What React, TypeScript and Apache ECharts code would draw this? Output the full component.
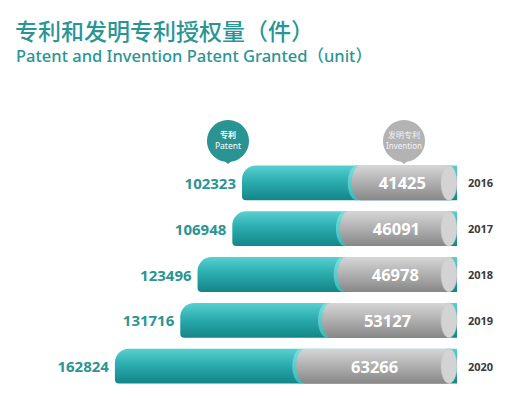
import React, { useEffect, useRef } from "react";
import * as echarts from "echarts";

const years = ["2016", "2017", "2018", "2019", "2020"];
const patentValues = [102323, 106948, 123496, 131716, 162824];
const inventionValues = [41425, 46091, 46978, 53127, 63266];

const titleCn = "专利和发明专利授权量（件）";
const titleEn = "Patent and Invention Patent Granted（unit）";

const TEAL_TEXT = "#2a9595";
const NUM_FONT = '"Open Sans", "Noto Sans", sans-serif';

export default function App() {
  const ref = useRef<HTMLDivElement>(null);
  useEffect(() => {
    if (!ref.current) return;
    const chart = echarts.init(ref.current, null, { renderer: "svg" });

    const tealGrad = new echarts.graphic.LinearGradient(0, 0, 0, 1, [
      { offset: 0, color: "#58d0d1" },
      { offset: 0.45, color: "#2cadaf" },
      { offset: 1, color: "#138588" },
    ]);
    const sliverGrad = new echarts.graphic.LinearGradient(0, 0, 0, 1, [
      { offset: 0, color: "#7fdede" },
      { offset: 1, color: "#3ab8b9" },
    ]);
    const greyGrad = new echarts.graphic.LinearGradient(0, 0, 0, 1, [
      { offset: 0, color: "#d6d6d6" },
      { offset: 0.5, color: "#afafaf" },
      { offset: 1, color: "#878787" },
    ]);

    const renderPatent = (params: any, api: any) => {
      const cat = api.value(1);
      const end = api.coord([api.value(0), cat]);
      const start = api.coord([0, cat]);
      const band = api.size([0, 1])[1];
      const h = band * 0.76;
      const cy = end[1];
      return {
        type: "group",
        children: [
          {
            type: "rect",
            shape: { x: end[0], y: cy - h / 2, width: start[0] - end[0], height: h, r: [14, 0, 0, 4] },
            style: { fill: tealGrad },
          },
          {
            type: "text",
            x: end[0] - 6,
            y: cy,
            style: {
              text: String(api.value(0)),
              align: "right",
              verticalAlign: "middle",
              fill: TEAL_TEXT,
              font: `bold 15px ${NUM_FONT}`,
            },
          },
        ],
      };
    };

    const renderInvention = (params: any, api: any) => {
      const cat = api.value(1);
      const end = api.coord([api.value(0), cat]);
      const start = api.coord([0, cat]);
      const band = api.size([0, 1])[1];
      const h = band * 0.76;
      const cy = end[1];
      const rx = 9;
      const capRx = 8;
      const left = end[0];
      const right = start[0];
      return {
        type: "group",
        children: [
          {
            type: "ellipse",
            shape: { cx: left + rx - 4, cy, rx, ry: h / 2 },
            style: { fill: sliverGrad },
          },
          {
            type: "rect",
            shape: { x: left + rx, y: cy - h / 2, width: right - capRx - (left + rx), height: h },
            style: { fill: greyGrad },
          },
          {
            type: "ellipse",
            shape: { cx: left + rx, cy, rx, ry: h / 2 },
            style: { fill: greyGrad },
          },
          {
            type: "ellipse",
            shape: { cx: right - capRx, cy, rx: capRx, ry: h / 2 },
            style: { fill: "#d3d3d3", stroke: "#c4c4c4", lineWidth: 0.5 },
          },
          {
            type: "text",
            x: (left + right - capRx) / 2 + 2,
            y: cy,
            style: {
              text: String(api.value(0)),
              align: "center",
              verticalAlign: "middle",
              fill: "#ffffff",
              font: `bold 16.5px ${NUM_FONT}`,
            },
          },
        ],
      };
    };

    chart.setOption({
      animation: false,
      grid: { left: 20, right: 57, top: 160, bottom: 9 },
      xAxis: [
        { type: "value", inverse: true, min: 0, max: 208000, show: false },
        { type: "value", inverse: true, min: 0, max: 172000, show: false },
      ],
      yAxis: {
        type: "category",
        data: years,
        inverse: true,
        position: "right",
        axisLine: { show: false },
        axisTick: { show: false },
        splitLine: { show: false },
        axisLabel: {
          margin: 11,
          color: "#3a3a3a",
          fontWeight: "bold",
          fontSize: 11,
          fontFamily: NUM_FONT,
          align: "left",
        },
      },
      series: [
        {
          type: "custom",
          name: "Patent",
          xAxisIndex: 0,
          yAxisIndex: 0,
          renderItem: renderPatent,
          encode: { x: 0, y: 1 },
          data: patentValues.map((v, i) => [v, i]),
        },
        {
          type: "custom",
          name: "Invention",
          xAxisIndex: 1,
          yAxisIndex: 0,
          renderItem: renderInvention,
          encode: { x: 0, y: 1 },
          data: inventionValues.map((v, i) => [v, i]),
        },
      ],
      graphic: [
        {
          type: "text",
          left: 15,
          top: 18,
          style: {
            text: titleCn,
            fill: TEAL_TEXT,
            font: '500 23px "Noto Sans CJK SC", sans-serif',
          },
        },
        {
          type: "text",
          left: 16,
          top: 47,
          style: {
            text: titleEn,
            fill: TEAL_TEXT,
            font: '500 16.5px "Noto Sans", "Noto Sans CJK SC", sans-serif',
          },
        },
        // Patent bubble
        {
          type: "group",
          children: [
            { type: "circle", shape: { cx: 228, cy: 141, r: 21 }, style: { fill: "#2a9393" } },
            { type: "polygon", shape: { points: [[221, 158], [235, 158], [228, 164]] }, style: { fill: "#2a9393" } },
            {
              type: "text",
              x: 228,
              y: 134,
              style: { text: "专利", align: "center", verticalAlign: "middle", fill: "#ffffff", font: 'bold 8px "Noto Sans CJK SC", sans-serif' },
            },
            {
              type: "text",
              x: 228,
              y: 145,
              style: { text: "Patent", align: "center", verticalAlign: "middle", fill: "#ffffff", font: '8.5px "Noto Sans", sans-serif' },
            },
          ],
        },
        // Invention bubble
        {
          type: "group",
          children: [
            { type: "circle", shape: { cx: 404, cy: 141, r: 21 }, style: { fill: "#b3b3b3" } },
            { type: "polygon", shape: { points: [[397, 158], [411, 158], [404, 164]] }, style: { fill: "#b3b3b3" } },
            {
              type: "text",
              x: 404,
              y: 134,
              style: { text: "发明专利", align: "center", verticalAlign: "middle", fill: "#f4f4f4", font: '8px "Noto Sans CJK SC", sans-serif' },
            },
            {
              type: "text",
              x: 404,
              y: 145,
              style: { text: "Invention", align: "center", verticalAlign: "middle", fill: "#f4f4f4", font: '8px "Noto Sans", sans-serif' },
            },
          ],
        },
      ],
    });
    return () => chart.dispose();
  }, []);

  return (
    <div
      ref={ref}
      style={{ position: "absolute", left: 0, top: 0, width: 514, height: 398, background: "#ffffff" }}
    />
  );
}
